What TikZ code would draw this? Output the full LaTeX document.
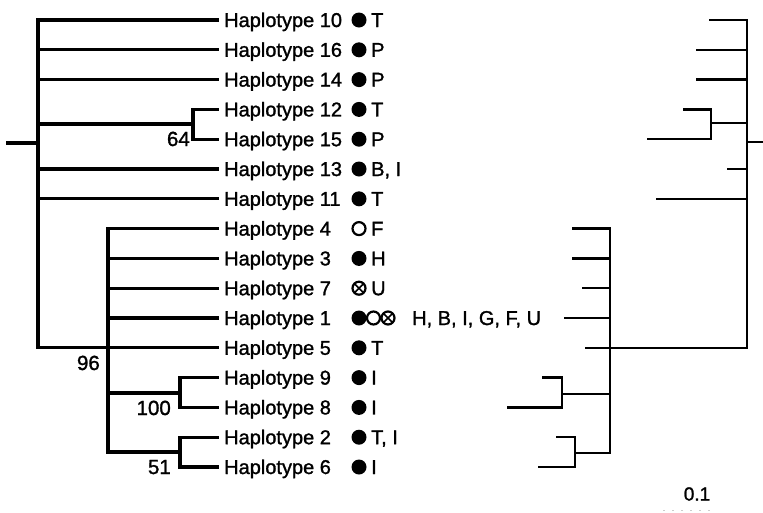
\documentclass[tikz,border=0pt]{standalone}
\usepackage{fontspec}
\setmainfont{Liberation Sans}[BoldFont={Liberation Sans},BoldFeatures={FakeBold=1.3}]
\begin{document}
\begin{tikzpicture}[x=1pt,y=-1pt,
  lbranch/.style={line width=3.2pt,line cap=rect,line join=miter},
  rbranch/.style={line width=2.5pt,line cap=rect,line join=miter},
  tiplabel/.style={anchor=base west,inner sep=0pt,yshift=-7pt,font=\fontsize{20}{24}\bfseries},
  hostlabel/.style={anchor=base west,inner sep=0pt,yshift=-7pt,font=\fontsize{20}{24}\bfseries},
  support/.style={anchor=base east,inner sep=0pt,yshift=-7pt,font=\fontsize{20.5}{24}\bfseries},
  fillsym/.style={circle,fill=black,inner sep=0pt,minimum size=15pt},
  opensym/.style={circle,draw=black,line width=2.2pt,inner sep=0pt,minimum size=13pt},
  crosssym/.style={circle,draw=black,line width=2.2pt,inner sep=0pt,minimum size=13pt,
    path picture={\draw[line width=1.6pt]
      (path picture bounding box.south west) -- (path picture bounding box.north east)
      (path picture bounding box.north west) -- (path picture bounding box.south east);}}
]
\useasboundingbox (0,0) rectangle (763,512);

% tips: left tree ends at x=217, right tree tips at their own lengths
\foreach \n/\r/\rx in {10/0/710,16/1/697,14/2/697,12/3/684,15/4/648,13/5/728,11/6/657,
                       4/7/573,3/8/573,7/9/583,1/10/565,5/11/586,9/12/543,8/13/508,2/14/557,6/15/539}{
  \coordinate (lt\n) at (217,{20+29.8*\r});
  \coordinate (rt\n) at (\rx,{20+29.8*\r});
  \node[tiplabel] (h\n) at (224,{20+29.8*\r}) {Haplotype \n};
}

% host symbols and host letters
\foreach \n/\r/\g in {10/0/T,16/1/P,14/2/P,12/3/T,15/4/P,13/5/{B, I},11/6/T,
                      3/8/H,5/11/T,9/12/I,8/13/I,2/14/{T, I},6/15/I}{
  \node[fillsym] (s\n) at (359,{20+29.8*\r}) {};
  \node[hostlabel] (g\n) at (371,{20+29.8*\r}) {\g};
}
\node[opensym] (s4) at (359,{20+29.8*7}) {};
\node[hostlabel] (g4) at (371,{20+29.8*7}) {F};
\node[crosssym] (s7) at (359,{20+29.8*9}) {};
\node[hostlabel] (g7) at (371,{20+29.8*9}) {U};
\node[fillsym] (s1a) at (359,{20+29.8*10}) {};
\node[opensym] (s1b) at (373.5,{20+29.8*10}) {};
\node[crosssym] (s1c) at (388,{20+29.8*10}) {};
\node[hostlabel] (g1) at (412,{20+29.8*10}) {H, B, I, G, F, U};

% ---------- left tree (cladogram) ----------
\coordinate (lroot) at (8,143);
\coordinate (la) at (38,143);
\coordinate (l64) at (193,124);
\coordinate (l96) at (108,347.8);
\coordinate (l100) at (180,393);
\coordinate (l51) at (180,452);

\draw[lbranch] (lroot) -- (la);
\draw[lbranch] (lt10) -| (la) |- (lt5);
\draw[lbranch] (la |- lt16) -- (lt16);
\draw[lbranch] (la |- lt14) -- (lt14);
\draw[lbranch] (la |- lt13) -- (lt13);
\draw[lbranch] (la |- lt11) -- (lt11);
\draw[lbranch] (lt12) -| (l64) |- (lt15);
\draw[lbranch] (l64) -- (la |- l64);
\draw[lbranch] (lt4) -| (l96) |- (l51);
\draw[lbranch] (l96 |- lt3) -- (lt3);
\draw[lbranch] (l96 |- lt7) -- (lt7);
\draw[lbranch] (l96 |- lt1) -- (lt1);
\draw[lbranch] (lt9) -| (l100) |- (lt8);
\draw[lbranch] (l100) -- (l96 |- l100);
\draw[lbranch] (lt2) -| (l51) |- (lt6);

\node[support] (b64) at (190,139) {64};
\node[support] (b96) at (100,363) {96};
\node[support] (b100) at (171,408) {100};
\node[support] (b51) at (171,467) {51};

% ---------- right tree (phylogram) ----------
\coordinate (rroot) at (763,142);
\coordinate (ra) at (747,142);
\coordinate (rc1) at (711,123);
\coordinate (rc2) at (610,347.8);
\coordinate (rc3) at (562,394);
\coordinate (rc4) at (575,453);

\draw[rbranch] (rroot) -- (ra);
\draw[rbranch] (rt10) -| (ra) |- (rt5);
\draw[rbranch] (ra |- rt16) -- (rt16);
\draw[rbranch] (ra |- rt14) -- (rt14);
\draw[rbranch] (ra |- rt13) -- (rt13);
\draw[rbranch] (ra |- rt11) -- (rt11);
\draw[rbranch] (rt12) -| (rc1) |- (rt15);
\draw[rbranch] (rc1) -- (ra |- rc1);
\draw[rbranch] (rt4) -| (rc2) |- (rc4);
\draw[rbranch] (rc2 |- rt3) -- (rt3);
\draw[rbranch] (rc2 |- rt7) -- (rt7);
\draw[rbranch] (rc2 |- rt1) -- (rt1);
\draw[rbranch] (rt9) -| (rc3) |- (rt8);
\draw[rbranch] (rc3) -- (rc2 |- rc3);
\draw[rbranch] (rt2) -| (rc4) |- (rt6);

% scale bar
\node[font=\fontsize{19}{22}\bfseries,inner sep=0pt] (scale) at (697,494) {0.1};
\coordinate (sb1) at (663,510.5);
\coordinate (sb2) at (712,510.5);
\draw[gray!40,line width=1pt,dash pattern=on 2pt off 7pt] (sb1) -- (sb2);
\end{tikzpicture}
\end{document}
